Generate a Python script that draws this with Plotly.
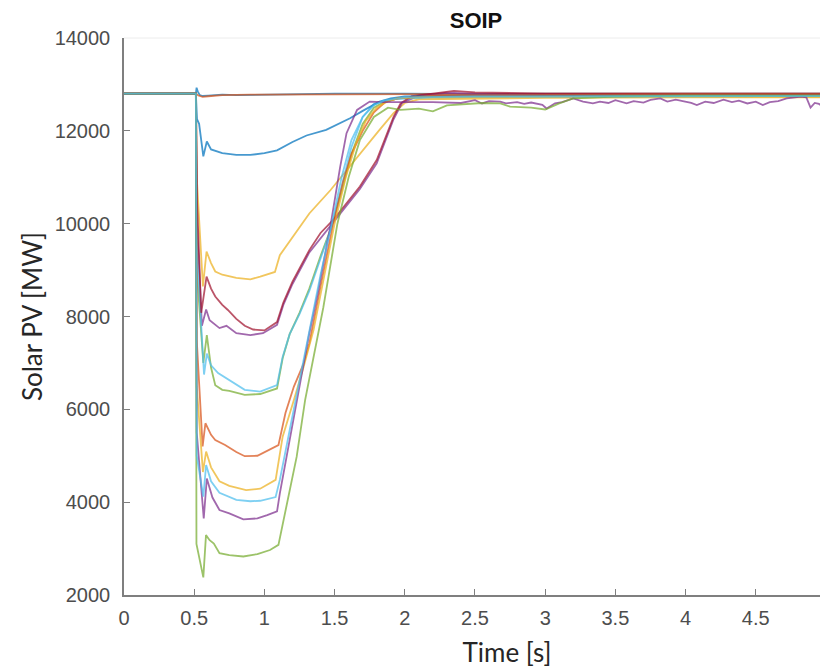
import plotly.graph_objects as go

# ---------------- data ----------------
t_blue_top = [0, 0.512, 0.517, 0.525, 0.54, 0.56, 0.6, 0.7, 0.8, 1.0, 1.2, 1.5, 2.0, 2.5, 3.0, 3.5, 4.0, 4.5, 5.0]
v_blue_top = [12800, 12800, 12930, 12850, 12770, 12750, 12760, 12780, 12770, 12780, 12790, 12800, 12800, 12790, 12800, 12800, 12790, 12800, 12800]

t_orange_top = [0, 0.512, 0.53, 0.56, 0.6, 0.7, 0.9, 1.2, 1.5, 2.0, 2.5, 3.0, 4.0, 5.0]
v_orange_top = [12800, 12800, 12760, 12730, 12745, 12770, 12780, 12785, 12790, 12790, 12800, 12800, 12800, 12800]

t_yellow_hi = [0, 0.512, 0.52, 0.562, 0.588, 0.62, 0.65, 0.7, 0.8, 0.9, 0.97, 1.075, 1.11, 1.21, 1.32, 1.47, 1.585, 1.7, 1.82, 1.92, 2.0, 2.1, 2.5, 3.0, 4.0, 5.0]
v_yellow_hi = [12800, 12800, 10900, 8650, 9400, 9150, 8970, 8900, 8830, 8800, 8860, 8960, 9320, 9750, 10220, 10720, 11150, 11590, 12020, 12380, 12600, 12680, 12700, 12710, 12720, 12720]

t_purple_hi = [0, 0.512, 0.52, 0.555, 0.585, 0.61, 0.68, 0.73, 0.8, 0.9, 0.99, 1.09, 1.135, 1.2, 1.32, 1.48, 1.6, 1.68, 1.8, 1.92, 1.98, 2.1, 2.3, 2.5, 3.0, 4.0, 5.0]
v_purple_hi = [12800, 12800, 10000, 7800, 8150, 7920, 7750, 7800, 7640, 7600, 7640, 7820, 8250, 8700, 9380, 9980, 10450, 10750, 11300, 12250, 12600, 12760, 12820, 12800, 12790, 12790, 12790]

t_green_hi = [0, 0.512, 0.518, 0.565, 0.59, 0.62, 0.65, 0.7, 0.75, 0.86, 0.97, 1.09, 1.13, 1.18, 1.25, 1.32, 1.4, 1.48, 1.55, 1.62, 1.7, 1.78, 1.85, 1.95, 2.2, 3.0, 4.0, 5.0]
v_green_hi = [12800, 12800, 9000, 7000, 7600, 6900, 6520, 6420, 6400, 6310, 6330, 6450, 7100, 7620, 8080, 8600, 9300, 9950, 10700, 11500, 12150, 12500, 12620, 12700, 12740, 12760, 12770, 12770]

t_lblue_hi = [0, 0.512, 0.518, 0.57, 0.59, 0.62, 0.67, 0.75, 0.86, 0.97, 1.09, 1.13, 1.18, 1.25, 1.32, 1.4, 1.48, 1.55, 1.62, 1.7, 1.78, 1.9, 2.2, 3.0, 4.0, 5.0]
v_lblue_hi = [12800, 12800, 9500, 6750, 7200, 6950, 6780, 6630, 6420, 6380, 6520, 7130, 7620, 8050, 8550, 9250, 9950, 10800, 11650, 12300, 12580, 12680, 12720, 12740, 12750, 12750]

t_red_hi = [0, 0.512, 0.52, 0.55, 0.588, 0.62, 0.65, 0.7, 0.74, 0.8, 0.86, 0.92, 1.0, 1.09, 1.135, 1.2, 1.32, 1.4, 1.49, 1.6, 1.68, 1.8, 1.92, 1.97, 2.05, 2.2, 2.35, 2.5, 3.0, 4.0, 5.0]
v_red_hi = [12800, 12800, 10500, 8080, 8860, 8600, 8430, 8250, 8140, 7950, 7800, 7720, 7700, 7880, 8300, 8750, 9430, 9800, 10080, 10500, 10800, 11370, 12300, 12590, 12750, 12800, 12860, 12830, 12800, 12800, 12800]

t_blue_mid = [0, 0.512, 0.52, 0.535, 0.565, 0.59, 0.62, 0.66, 0.7, 0.8, 0.9, 1.0, 1.09, 1.2, 1.3, 1.44, 1.55, 1.61, 1.7, 1.75, 1.82, 1.9, 2.0, 2.5, 3.0, 4.0, 5.0]
v_blue_mid = [12800, 12800, 12250, 12150, 11450, 11770, 11600, 11560, 11520, 11480, 11480, 11520, 11580, 11760, 11900, 12020, 12180, 12270, 12430, 12520, 12630, 12700, 12740, 12760, 12770, 12780, 12780]

t_orange_lo = [0, 0.512, 0.518, 0.56, 0.58, 0.62, 0.65, 0.72, 0.8, 0.86, 0.95, 1.05, 1.1, 1.15, 1.21, 1.28, 1.32, 1.4, 1.49, 1.56, 1.62, 1.7, 1.78, 1.86, 1.95, 2.2, 3.0, 4.0, 5.0]
v_orange_lo = [12800, 12800, 7500, 5200, 5700, 5450, 5340, 5230, 5080, 4990, 5000, 5150, 5230, 5920, 6490, 6990, 7420, 8650, 10000, 10900, 11500, 12000, 12400, 12620, 12700, 12760, 12780, 12790, 12790]

t_yellow_lo = [0, 0.512, 0.518, 0.562, 0.585, 0.62, 0.68, 0.75, 0.87, 0.97, 1.08, 1.13, 1.21, 1.28, 1.35, 1.42, 1.5, 1.58, 1.65, 1.72, 1.8, 1.88, 1.95, 2.1, 2.5, 3.0, 4.0, 5.0]
v_yellow_lo = [12800, 12800, 6500, 4650, 5090, 4750, 4450, 4350, 4260, 4290, 4480, 5410, 6200, 6920, 7710, 8800, 10000, 11000, 11700, 12200, 12500, 12640, 12700, 12720, 12730, 12730, 12740, 12740]

t_purple_lo = [0, 0.512, 0.518, 0.568, 0.59, 0.63, 0.68, 0.75, 0.85, 0.95, 1.02, 1.09, 1.11, 1.18, 1.25, 1.32, 1.38, 1.47, 1.54, 1.585, 1.66, 1.75,
               1.85, 2.0, 2.2, 2.4, 2.5, 2.55, 2.6, 2.68, 2.72, 2.8, 2.85, 2.9, 2.98, 3.01, 3.07, 3.12, 3.2, 3.27, 3.34, 3.39, 3.45, 3.5,
               3.58, 3.63, 3.7, 3.75, 3.82, 3.87, 3.93, 3.98, 4.04, 4.08, 4.14, 4.2, 4.27, 4.33, 4.38, 4.44, 4.5, 4.55, 4.6, 4.66, 4.72,
               4.78, 4.82, 4.86, 4.89, 4.92, 4.95, 4.98, 5.0]
v_purple_lo = [12800, 12800, 5500, 3650, 4510, 4100, 3830, 3760, 3630, 3650, 3720, 3800, 4190, 5340, 6490, 7640, 8500, 9940, 11230, 11950, 12450, 12630,
               12620, 12620, 12620, 12600, 12660, 12590, 12640, 12630, 12590, 12620, 12580, 12610, 12560, 12480, 12592, 12620, 12700, 12630, 12592, 12630, 12600, 12660,
               12592, 12640, 12610, 12665, 12700, 12630, 12670, 12640, 12600, 12556, 12630, 12600, 12670, 12620, 12650, 12590, 12630, 12556, 12620, 12640, 12700,
               12720, 12736, 12720, 12500, 12600, 12580, 12520, 12556]

t_green_lo = [0, 0.512, 0.516, 0.565, 0.584, 0.61, 0.64, 0.68, 0.75, 0.85, 0.95, 1.04, 1.1, 1.15, 1.23, 1.29, 1.35, 1.42, 1.52, 1.6, 1.68, 1.78, 1.88,
              1.97, 2.1, 2.2, 2.3, 2.45, 2.55, 2.68, 2.75, 2.9, 3.0, 3.1, 3.2, 3.5, 4.0, 5.0]
v_green_lo = [12800, 12800, 3100, 2380, 3290, 3180, 3110, 2900, 2860, 2830, 2880, 2970, 3080, 3830, 4980, 6200, 7100, 8200, 10000, 11000, 11800, 12300, 12500,
              12450, 12480, 12420, 12550, 12580, 12600, 12590, 12520, 12500, 12460, 12590, 12700, 12740, 12760, 12760]

t_lblue_lo = [0, 0.512, 0.518, 0.565, 0.585, 0.62, 0.68, 0.8, 0.9, 0.97, 1.08, 1.11, 1.18, 1.25, 1.32, 1.4, 1.48, 1.55, 1.62, 1.7, 1.78, 1.85, 2.0, 2.5, 3.0, 4.0, 5.0]
v_lblue_lo = [12800, 12800, 5000, 4120, 4800, 4450, 4200, 4050, 4020, 4030, 4110, 4480, 5550, 6630, 7710, 8900, 10000, 11000, 11800, 12300, 12550, 12650, 12720, 12740, 12740, 12750, 12750]

x_ticks = [0, 0.5, 1, 1.5, 2, 2.5, 3, 3.5, 4, 4.5, 5]
x_tick_text = ["0", "0.5", "1", "1.5", "2", "2.5", "3", "3.5", "4", "4.5", "5"]
y_ticks = [2000, 4000, 6000, 8000, 10000, 12000, 14000]
y_tick_text = ["2000", "4000", "6000", "8000", "10000", "12000", "14000"]
x_range = [0, 5.456]   # the axes run on past 5; the picture is cropped at the right
y_range = [2000, 14000]

BLUE, ORANGE, YELLOW, PURPLE, GREEN, LBLUE, RED = (
    "#0072BD", "#D95319", "#EDB120", "#7E2F8E", "#77AC30", "#4DBEEE", "#A2142F")

series = [
    (t_blue_top, v_blue_top, BLUE),
    (t_orange_top, v_orange_top, ORANGE),
    (t_yellow_hi, v_yellow_hi, YELLOW),
    (t_purple_hi, v_purple_hi, PURPLE),
    (t_green_hi, v_green_hi, GREEN),
    (t_lblue_hi, v_lblue_hi, LBLUE),
    (t_red_hi, v_red_hi, RED),
    (t_blue_mid, v_blue_mid, BLUE),
    (t_orange_lo, v_orange_lo, ORANGE),
    (t_yellow_lo, v_yellow_lo, YELLOW),
    (t_purple_lo, v_purple_lo, PURPLE),
    (t_green_lo, v_green_lo, GREEN),
    (t_lblue_lo, v_lblue_lo, LBLUE),
]

fig = go.Figure()
for tt, vv, col in series:
    fig.add_trace(go.Scatter(x=tt, y=vv, mode="lines",
                             line=dict(color=col, width=1.8),
                             opacity=0.72, hoverinfo="skip", showlegend=False))

tick_font = dict(family="Liberation Sans Narrow, Arial Narrow, Liberation Sans, sans-serif", size=20, color="#4d4d4d")
title_font = dict(family="Lato, Liberation Sans, sans-serif", size=26, color="#262626")

W, H = 884, 663
fig.update_layout(
    width=W, height=H,
    margin=dict(l=116, r=2, t=30, b=76),
    paper_bgcolor="white", plot_bgcolor="white",
    title=dict(text="<b>SOIP</b>", xref="container", x=468 / W, xanchor="center",
               yref="container", y=1 - 12 / H, yanchor="middle",
               font=dict(family="Liberation Sans, Arial, sans-serif", size=22, color="#111111")),
    xaxis=dict(range=x_range, tickvals=x_ticks, ticktext=x_tick_text,
               ticks="inside", ticklen=6, tickwidth=1.2, tickcolor="#7f7f7f",
               showline=True, linecolor="#7f7f7f", linewidth=1.5,
               showgrid=False, zeroline=False, tickfont=tick_font, automargin=False,
               ticklabelstandoff=4,
               title=dict(text="Time [s]", font=title_font, standoff=16)),
    yaxis=dict(range=y_range, tickvals=y_ticks, ticktext=y_tick_text,
               ticks="inside", ticklen=6, tickwidth=1.2, tickcolor="#7f7f7f",
               showline=True, linecolor="#7f7f7f", linewidth=1.5,
               showgrid=False, zeroline=False, tickfont=tick_font, automargin=False,
               ticklabelstandoff=8,
               title=dict(text="Solar PV [MW]", font=title_font, standoff=5)),
    shapes=[dict(type="line", xref="paper", yref="paper", x0=0, x1=1, y0=1, y1=1,
                 line=dict(color="#ececec", width=1))],
)

fig.write_html("out.html")
